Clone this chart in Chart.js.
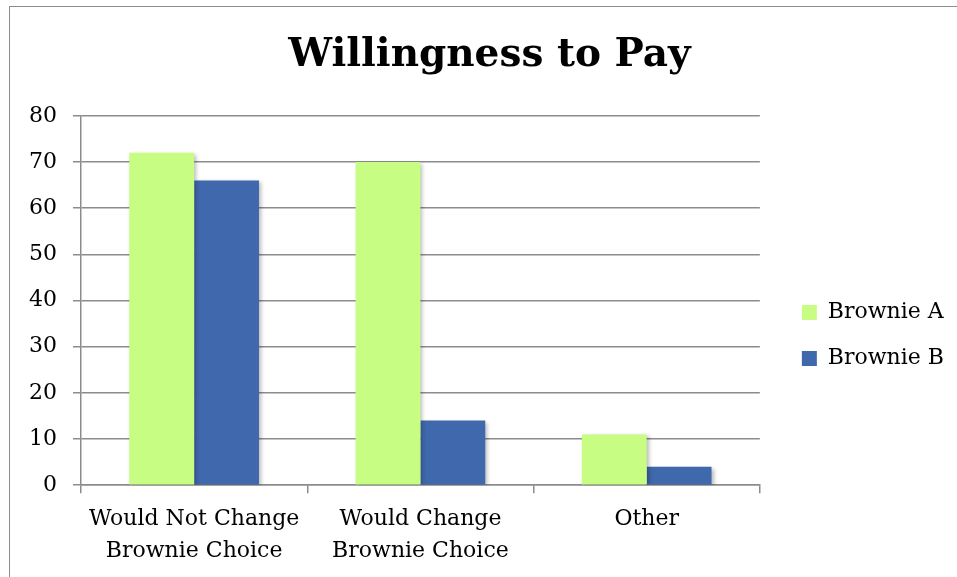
<!DOCTYPE html>
<html>
<head>
<meta charset="utf-8">
<script src="https://cdn.jsdelivr.net/npm/chart.js@4"></script>
<style>
  html, body { margin:0; padding:0; background:#fff; overflow:hidden; width:957px; height:577px; }
  .frame { position:absolute; left:9px; top:6px; width:1000px; height:1000px; border:1.5px solid #8c8c8c; }
  .wrap { position:absolute; left:10px; top:8px; width:962px; height:570px; }
</style>
</head>
<body>
<div class="frame"></div>
<div class="wrap"><canvas id="chart"></canvas></div>
<script>
const categories = [['Would Not Change','Brownie Choice'], ['Would Change','Brownie Choice'], 'Other'];
const brownieA = [72, 70, 11];
const brownieB = [66, 14, 4];
const yTicks = [0, 10, 20, 30, 40, 50, 60, 70, 80];

const serif = "'DejaVu Serif', 'Liberation Serif', serif";
const gridGray = '#8c8c8c';

// soft drop shadow under the bars
const barShadow = {
  id:'barShadow',
  beforeDatasetsDraw(c){ const x=c.ctx; x.save(); x.shadowColor='rgba(0,0,0,0.28)'; x.shadowBlur=4; x.shadowOffsetX=2; x.shadowOffsetY=2; },
  afterDatasetsDraw(c){ c.ctx.restore(); }
};

// shift legend away from the plot and down, title a little right
const nudge = {
  id:'nudge',
  afterLayout(c){
    const l=c.legend;
    if(l){ l.left+=18; l.right+=18; l.top+=43; l.bottom+=43; }
    const t=c.titleBlock;
    if(t){ t.left+=15; t.right+=15; }
  }
};

new Chart(document.getElementById('chart'), {
  type:'bar',
  data:{
    labels:categories,
    datasets:[
      { label:'Brownie A', data:brownieA, backgroundColor:'#c8fd84' },
      { label:'Brownie B', data:brownieB, backgroundColor:'#3f69ac' }
    ]
  },
  plugins:[barShadow, nudge],
  options:{
    responsive:true, maintainAspectRatio:false, animation:false,
    categoryPercentage:0.573, barPercentage:1,
    layout:{ padding:{ left:3, right:36, bottom:1 } },
    plugins:{
      title:{ display:true, text:'Willingness to Pay', color:'#000', font:{ family:serif, size:39, weight:'bold' }, padding:{ top:24, bottom:37 } },
      legend:{ position:'right', labels:{ color:'#000', font:{ family:serif, size:22 }, boxWidth:15, boxHeight:15, padding:24 } },
      tooltip:{ enabled:false }
    },
    scales:{
      x:{
        grid:{ display:true, drawOnChartArea:false, color:gridGray, lineWidth:1.5, tickLength:8, offset:true },
        border:{ color:gridGray, width:1.5 },
        ticks:{ color:'#000', font:{ family:serif, size:22, lineHeight:1.45 }, padding:10, maxRotation:0 }
      },
      y:{
        min:0, max:80,
        afterBuildTicks(s){ s.ticks = yTicks.map(v=>({value:v})); },
        grid:{ color:gridGray, lineWidth:1.5, tickLength:8 },
        border:{ color:gridGray, width:1.5 },
        ticks:{ color:'#000', font:{ family:serif, size:22 }, padding:16 }
      }
    }
  }
});
</script>
</body>
</html>
